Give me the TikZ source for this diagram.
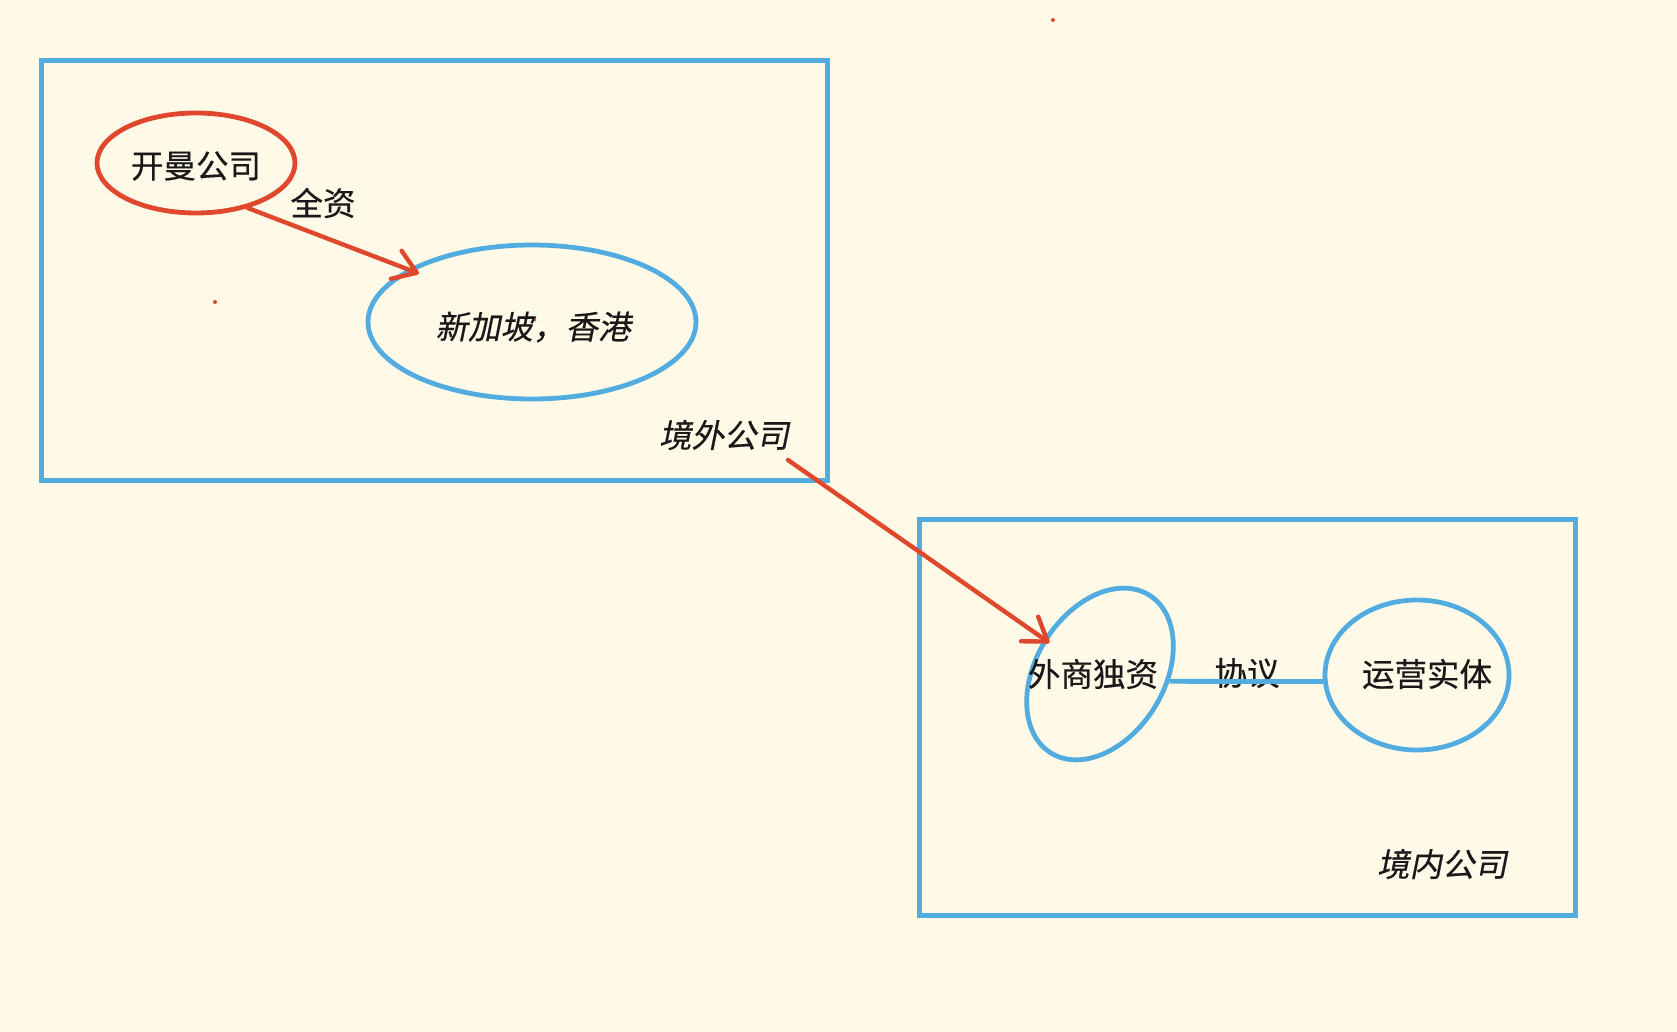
\documentclass[tikz,border=0pt]{standalone}
\usepackage{fontspec}
\usetikzlibrary{shapes.geometric,arrows.meta}
\newfontfamily\cjk[FakeBold=0.4]{Noto Sans CJK SC}
\newfontfamily\cjkit[FakeSlant=0.2,FakeBold=0.4]{Noto Sans CJK SC}
\definecolor{bgc}{RGB}{255,250,232}
\definecolor{bl}{RGB}{82,172,224}
\definecolor{rd}{RGB}{224,72,46}
\definecolor{tx}{RGB}{25,25,25}
\tikzset{
  box/.style={draw=bl,line width=5pt},
  bell/.style={ellipse,draw=bl,line width=4.8pt,inner sep=0pt},
  rell/.style={ellipse,draw=rd,line width=4.8pt,inner sep=0pt},
  lbl/.style={text=tx,font=\cjk\fontsize{32.5}{38}\selectfont,inner sep=0pt},
  ilbl/.style={text=tx,font=\cjkit\fontsize{32.5}{38}\selectfont,inner sep=0pt},
  rarrow/.style={draw=rd,line width=4.4pt,line cap=round,-{Straight Barb[length=22pt,width=30pt,round]}},
  bline/.style={draw=bl,line width=4.8pt},
  dotr/.style={circle,fill=rd,inner sep=0pt,minimum size=4pt}
}
\begin{document}
\begin{tikzpicture}[x=1pt,y=-1pt]
\useasboundingbox (0,0) rectangle (1677,1032);
\fill[bgc] (0,0) rectangle (1677,1032);
% boxes
\draw[box] (41,61) rectangle (827,480);
\draw[box] (919,519) rectangle (1575,915);
% ellipses
\node[rell,minimum width=198pt,minimum height=100pt] (kaiman) at (196,163) {};
\node[lbl] (kaimant) at (196,166) {开曼公司};
\node[bell,minimum width=328pt,minimum height=154pt] (sg) at (532,322) {};
\node[ilbl] (sgt) at (533,327) {新加坡，香港};
\node[bell,minimum width=186pt,minimum height=128pt,rotate=58] (wfoe) at (1100,674) {};
\node[lbl] (wfoet) at (1093,674) {外商独资};
\node[bell,minimum width=184pt,minimum height=150pt] (yy) at (1417,675) {};
\node[lbl] (yyt) at (1427,674) {运营实体};
% labels
\node[lbl] (qz) at (323,203) {全资};
\node[ilbl] (jw) at (724,435) {境外公司};
\node[ilbl] (jn) at (1442,864) {境内公司};
\node[lbl] (xy) at (1247,673) {协议};
% connectors
\coordinate (a2s) at (788,460);
\draw[rarrow,shorten >=-12pt] (kaiman.-41) -- (sg.157);
\draw[rarrow,shorten >=-7pt] (a2s) -- (wfoe.90);
\draw[bline] (wfoe.-64) -- (yy.184);
% small dots
\node[dotr] (d1) at (1053,20) {};
\node[dotr] (d2) at (215,302) {};
\node[dotr,minimum size=3pt] (d3) at (535,320) {};
\end{tikzpicture}
\end{document}
